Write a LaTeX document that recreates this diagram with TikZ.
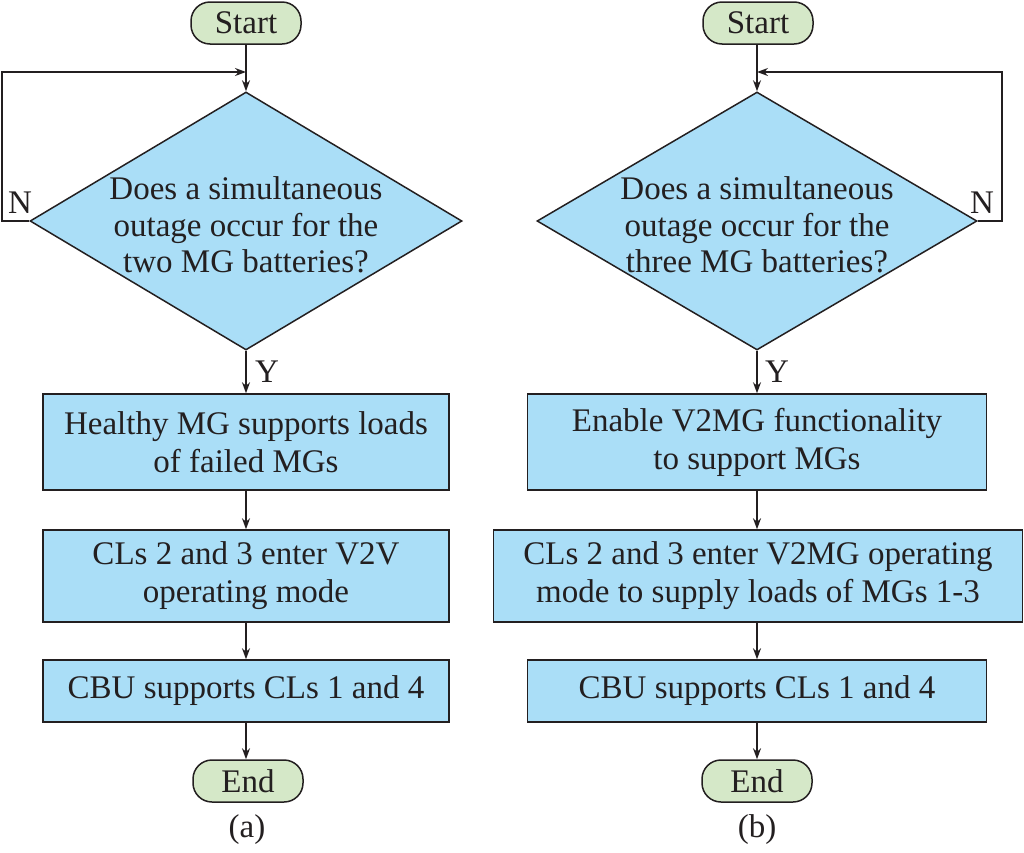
\documentclass[tikz,border=0pt]{standalone}
\usepackage{fontspec}
\setmainfont{Liberation Serif}
\usetikzlibrary{arrows.meta,shapes.geometric}
\definecolor{boxblue}{RGB}{170,222,247}
\definecolor{termgreen}{RGB}{213,232,200}
\definecolor{ink}{RGB}{35,31,32}
\begin{document}
\begin{tikzpicture}[x=1pt,y=-1pt,
  every node/.style={font=\fontsize{33}{38}\selectfont, text=ink},
  term/.style={draw=ink, line width=1.5pt, fill=termgreen, rounded corners=19pt,
    minimum width=110pt, minimum height=42pt, inner sep=0pt},
  proc/.style={draw=ink, line width=1.5pt, fill=boxblue, inner sep=0pt, align=center},
  dia/.style={draw=ink, line width=1.5pt, fill=boxblue, shape=diamond, inner sep=0pt},
  dtext/.style={align=center, inner sep=0pt, font=\fontsize{33}{36.5}\selectfont},
  lbl/.style={inner sep=0pt},
  arr/.style={draw=ink, line width=1.5pt, -{Stealth[length=11pt,width=8pt]}}
]
\useasboundingbox (0,0) rectangle (1024,852);

% ---------- (a) ----------
\node[term] (s1) at (246,23) {Start};
\node[dia, minimum width=432pt, minimum height=258pt] (d1) at (246,221) {};
\node[dtext] (t1) at (246,225) {Does a simultaneous\\outage occur for the\\two MG batteries?};
\node[proc, minimum width=406pt, minimum height=96pt] (b1) at (246,442) {Healthy MG supports loads\\of failed MGs};
\node[proc, minimum width=406pt, minimum height=92pt] (b2) at (246,576) {CLs 2 and 3 enter V2V\\operating mode};
\node[proc, minimum width=406pt, minimum height=62pt] (b3) at (246,691) {CBU supports CLs 1 and 4};
\node[term] (e1) at (248,781) {End};
\node[lbl] (ca) at (247,830) {(a)};
\node[lbl] (n1) at (20,203) {N};
\node[lbl] (y1) at (267,372) {Y};
\coordinate (lc1) at (2,72);
\coordinate (j1) at (246,72);

\draw[arr] (s1.south) -- (d1.north);
\draw[arr] (d1.west) -| (lc1) -- (j1);
\draw[arr] (d1.south) -- (b1.north);
\draw[arr] (b1.south) -- (b2.north);
\draw[arr] (b2.south) -- (b3.north);
\draw[arr] (b3.south) -- (b3.south |- e1.north);

% ---------- (b) ----------
\node[term] (s2) at (758,23) {Start};
\node[dia, minimum width=440pt, minimum height=258pt] (d2) at (757,221) {};
\node[dtext] (t2) at (757,225) {Does a simultaneous\\outage occur for the\\three MG batteries?};
\node[proc, minimum width=459pt, minimum height=96pt] (r1) at (757,442) {Enable V2MG functionality\\to support MGs};
\node[proc, minimum width=529pt, minimum height=92pt] (r2) at (758,576) {CLs 2 and 3 enter V2MG operating\\mode to supply loads of MGs 1-3};
\node[proc, minimum width=459pt, minimum height=62pt] (r3) at (757,691) {CBU supports CLs 1 and 4};
\node[term] (e2) at (757,781) {End};
\node[lbl] (cb) at (757,830) {(b)};
\node[lbl] (n2) at (982,203) {N};
\node[lbl] (y2) at (777,372) {Y};
\coordinate (lc2) at (1002,72);
\coordinate (j2) at (757,72);

\draw[arr] (s2.south -| d2.north) -- (d2.north);
\draw[arr] (d2.east) -| (lc2) -- (j2);
\draw[arr] (d2.south) -- (r1.north);
\draw[arr] (r1.south) -- (r1.south |- r2.north);
\draw[arr] (r2.south -| r1.south) -- (r3.north);
\draw[arr] (r3.south) -- (e2.north);
\end{tikzpicture}
\end{document}
